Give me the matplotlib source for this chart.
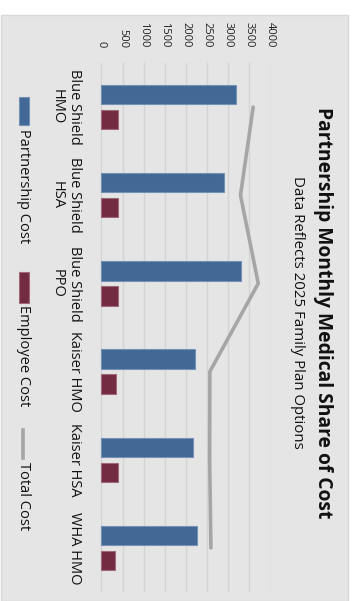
import matplotlib
matplotlib.use("Agg")
import matplotlib.pyplot as plt
from matplotlib.patches import Rectangle
from matplotlib.lines import Line2D
import numpy as np

categories = ["Blue Shield\nHMO", "Blue Shield\nHSA", "Blue Shield\nPPO",
              "Kaiser HMO", "Kaiser HSA", "WHA HMO"]
partnership_cost = [3190, 2900, 3300, 2225, 2160, 2265]
employee_cost = [385, 380, 400, 340, 390, 320]
total_cost = [3590, 3290, 3710, 2565, 2560, 2590]
value_ticks = [0, 500, 1000, 1500, 2000, 2500, 3000, 3500, 4000]

title = "Partnership Monthly Medical Share of Cost"
subtitle = "Data Reflects 2025 Family Plan Options"
legend_labels = ["Partnership Cost", "Employee Cost", "Total Cost"]

BLUE = "#426896"
RED = "#722b41"
LINE = "#a6a6a6"
BG = "#e5e5e5"
FONT = ["Open Sans", "DejaVu Sans"]
plt.rcParams["font.family"] = FONT

W, H = 355, 601
fig = plt.figure(figsize=(W / 100, H / 100), dpi=100, facecolor="white")


def fx(x):
    return x / W


def fy(y):
    return 1 - y / H


# background panel
fig.add_artist(Rectangle((fx(0.5), 0), fx(347.5), fy(15), transform=fig.transFigure,
                         facecolor=BG, edgecolor="#d8d8d8", lw=1, zorder=0))

ax = fig.add_axes([fx(100), fy(592), fx(270.5) - fx(100), fy(63) - fy(592)])
ax.set_facecolor(BG)
ax.patch.set_alpha(0)

y = np.arange(len(categories))
bh = 0.22
off = 0.142
ax.barh(y - off, partnership_cost, height=bh, color=BLUE, edgecolor="#7390b6", lw=0.8, zorder=3)
ax.barh(y + off, employee_cost, height=bh, color=RED, edgecolor="#a06878", lw=0.8, zorder=3)
ax.plot(total_cost, y, color=LINE, lw=2.6, solid_capstyle="round", solid_joinstyle="miter", zorder=4)

ax.set_ylim(len(categories) - 0.5, -0.5)
ax.set_xlim(-35, 4000)
ax.set_xticks(value_ticks)
ax.xaxis.tick_top()
ax.set_xticklabels([str(v) for v in value_ticks], rotation=-90, fontsize=8, color="#222222")
ax.tick_params(axis="x", length=0, pad=11)
ax.set_yticks(y)
ax.set_yticklabels(categories, rotation=-90, fontsize=10.5, color="#111111",
                   ha="right", va="center", multialignment="center")
ax.tick_params(axis="y", length=0, pad=13)
ax.grid(axis="x", color="#d4d4d4", lw=1, zorder=0)
ax.set_axisbelow(True)
for s in ax.spines.values():
    s.set_visible(False)

# titles
fig.text(fx(323), fy(312.5), title, rotation=-90, ha="center", va="center",
         fontsize=13.9, fontweight="bold", color="#111111")
fig.text(fx(297), fy(312.5), subtitle, rotation=-90, ha="center", va="center",
         fontsize=10.8, color="#111111")

# legend (rotated manually)
fig.add_artist(Rectangle((fx(19), fy(125)), fx(10), fy(97) - fy(125), transform=fig.transFigure,
                         facecolor=BLUE, edgecolor="#7390b6", lw=0.8))
fig.text(fx(23), fy(129), legend_labels[0], rotation=-90, ha="center", va="top", fontsize=10.5, color="#111111")
fig.add_artist(Rectangle((fx(19), fy(303)), fx(10), fy(272) - fy(303), transform=fig.transFigure,
                         facecolor=RED, edgecolor="#a06878", lw=0.8))
fig.text(fx(23), fy(305), legend_labels[1], rotation=-90, ha="center", va="top", fontsize=10.5, color="#111111")
fig.add_artist(Line2D([fx(23), fx(23)], [fy(430), fy(458)], transform=fig.transFigure,
                      color=LINE, lw=2.6))
fig.text(fx(23), fy(462), legend_labels[2], rotation=-90, ha="center", va="top", fontsize=10.5, color="#111111")

fig.savefig("out.png", dpi=100, facecolor="white")
